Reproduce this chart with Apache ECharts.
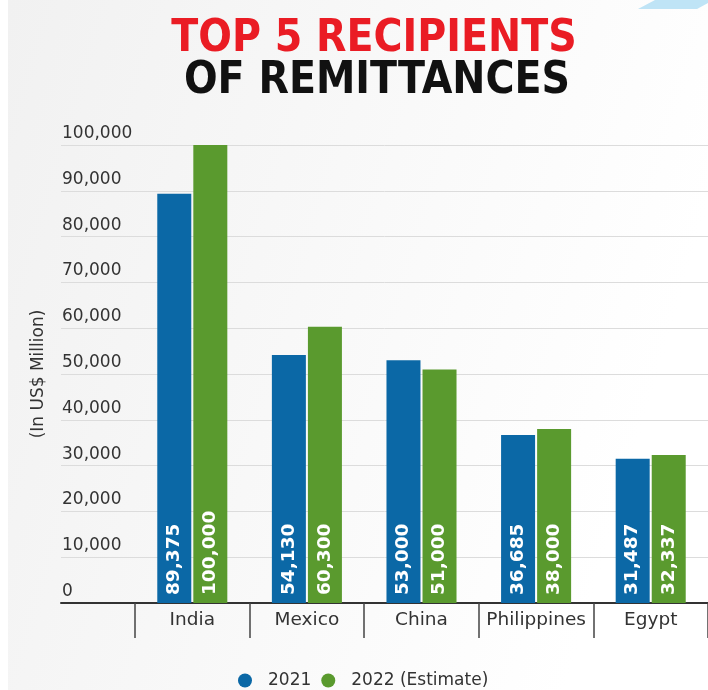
<!DOCTYPE html>
<html>
<head>
<meta charset="utf-8">
<script src="https://cdn.jsdelivr.net/npm/echarts@6/dist/echarts.min.js"></script>
<style>
html,body{margin:0;padding:0;background:#fff;}
#chart{width:708px;height:690px;}
</style>
</head>
<body>
<div id="chart"></div>
<script>
const categories = ['India', 'Mexico', 'China', 'Philippines', 'Egypt'];
const values2021 = [89375, 54130, 53000, 36685, 31487];
const values2022 = [100000, 60300, 51000, 38000, 32337];
const seriesNames = ['2021', '2022 (Estimate)'];
const yMin = 0, yMax = 100000, yStep = 10000;
const titleLine1 = 'TOP 5 RECIPIENTS';
const titleLine2 = 'OF REMITTANCES';
const yAxisTitle = '(In US$ Million)';

const fmt = v => Number(v).toLocaleString('en-US');
const FONT = "'DejaVu Sans', 'Noto Sans', sans-serif";
const TITLE_FONT = "'DejaVu Sans Condensed', 'DejaVu Sans', sans-serif";
const BLUE = '#0b68a6';
const GREEN = '#5a9a2e';

const barLabel = {
  show: true, position: 'insideBottom', rotate: 90, align: 'left', verticalAlign: 'middle',
  distance: 8, color: '#fff', fontWeight: 'bold', fontSize: 18.5, fontFamily: FONT,
  formatter: p => fmt(p.value)
};

const chart = echarts.init(document.getElementById('chart'), null, {renderer: 'canvas'});
chart.setOption({
  backgroundColor: '#ffffff',
  animation: false,
  graphic: [
    {type: 'rect', z: -10, shape: {x: 8, y: 0, width: 700, height: 690},
     style: {fill: new echarts.graphic.LinearGradient(0, 0, 1, 0.3, [
       {offset: 0, color: '#f1f1f1'}, {offset: 0.5, color: '#f8f8f8'}, {offset: 1, color: '#ffffff'}])}},
    {type: 'polygon', z: -5, shape: {points: [[655, 0], [708, 0], [708, 3], [697, 9], [638, 9]]},
     style: {fill: '#bfe4f6'}}
  ],
  title: [
    {text: titleLine1, left: 369, top: 13, textAlign: 'center',
     textStyle: {fontFamily: TITLE_FONT, fontWeight: 'bold', fontSize: 44, color: '#ea1c24'}},
    {text: titleLine2, left: 372, top: 55, textAlign: 'center',
     textStyle: {fontFamily: TITLE_FONT, fontWeight: 'bold', fontSize: 44, color: '#111111'}}
  ],
  legend: {
    data: seriesNames, top: 667, left: 233, icon: 'circle',
    itemWidth: 14, itemHeight: 14, itemGap: 10,
    textStyle: {fontFamily: FONT, fontSize: 17, color: '#333', padding: [0, 0, 0, 11]}
  },
  grid: [
    {left: 61, right: 0, top: 145, bottom: 87},
    {left: 135, width: 579, top: 145, bottom: 87}
  ],
  xAxis: [
    {type: 'value', gridIndex: 0, min: 0, max: 1,
     axisLine: {show: true, onZero: false, lineStyle: {color: '#333', width: 2}},
     axisTick: {show: false}, axisLabel: {show: false}, splitLine: {show: false}},
    {type: 'category', gridIndex: 1, data: categories,
     axisLine: {show: false},
     axisTick: {show: true, interval: 0, length: 35, lineStyle: {color: '#444', width: 1.5}},
     axisLabel: {interval: 0, fontFamily: FONT, fontSize: 18.5, color: '#333', margin: 8}}
  ],
  yAxis: [
    {type: 'value', gridIndex: 0, min: yMin, max: yMax, interval: yStep,
     name: yAxisTitle, nameLocation: 'middle', nameRotate: 90, nameGap: 14,
     nameTextStyle: {fontFamily: FONT, fontSize: 17, color: '#333'},
     axisLine: {show: false}, axisTick: {show: false},
     axisLabel: {inside: true, margin: 1, verticalAlign: 'bottom', align: 'left',
       padding: [0, 0, 3, 0], fontFamily: FONT, fontSize: 17, color: '#333', formatter: fmt},
     splitLine: {lineStyle: {color: '#dcdcdc', width: 1}}},
    {type: 'value', gridIndex: 1, min: yMin, max: yMax, interval: yStep, show: false,
     splitLine: {show: false}}
  ],
  series: [
    {name: seriesNames[0], type: 'bar', xAxisIndex: 1, yAxisIndex: 1, data: values2021,
     barWidth: 34, barGap: '6%', itemStyle: {color: BLUE}, label: barLabel},
    {name: seriesNames[1], type: 'bar', xAxisIndex: 1, yAxisIndex: 1, data: values2022,
     barWidth: 34, barGap: '6%', itemStyle: {color: GREEN}, label: barLabel}
  ]
});
</script>
</body>
</html>
